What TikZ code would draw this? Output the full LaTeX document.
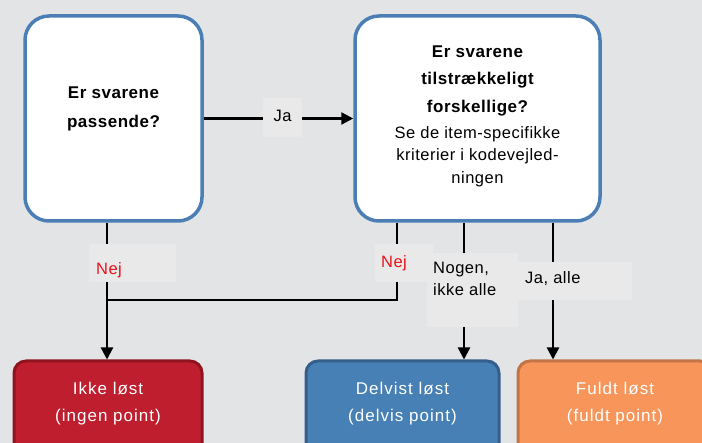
\documentclass[tikz,border=0pt]{standalone}
\usepackage{fontspec}
\setmainfont{Liberation Sans}[LetterSpace=3]
\newfontfamily\widesans{Liberation Sans}[LetterSpace=6]
\usetikzlibrary{arrows.meta}
\definecolor{bgcol}{HTML}{E3E4E6}
\definecolor{qframe}{HTML}{4A7EB4}
\definecolor{lblbg}{HTML}{E9E9E9}
\definecolor{nejred}{HTML}{E8121A}
\definecolor{redfill}{HTML}{BE1E2D}
\definecolor{redline}{HTML}{8F1420}
\definecolor{bluefill}{HTML}{4680B4}
\definecolor{blueline}{HTML}{355F8A}
\definecolor{orangefill}{HTML}{F7955A}
\definecolor{orangeline}{HTML}{C27446}
\tikzset{
  question/.style={draw=qframe, line width=3.5pt, fill=white, rounded corners=24pt,
    minimum width=177pt, minimum height=205pt, inner sep=0pt},
  qtext/.style={align=center, inner sep=0pt},
  result/.style={line width=3pt, rounded corners=12pt, minimum width=188pt,
    minimum height=110pt, inner sep=0pt, anchor=north},
  rtext/.style={text=white, align=center, inner sep=0pt,
    font=\widesans\fontsize{17}{27}\selectfont},
  lbl/.style={fill=lblbg, inner sep=0pt},
  ltext/.style={inner sep=0pt, font=\fontsize{16.5}{22}\selectfont},
  arr/.style={line width=2.2pt, -{Triangle[length=12pt, width=12pt]}},
  thinlink/.style={line width=1.5pt}
}
\begin{document}
\begin{tikzpicture}[x=1pt, y=-1pt]
  \fill[bgcol] (0,0) rectangle (702,443);
  \useasboundingbox (0,0) rectangle (702,443);

  % decision boxes
  \node[question] (q1) at (113.5,118.5) {};
  \node[qtext, font=\fontsize{17}{29}\selectfont\bfseries] (q1t) at (113.5,109)
    {Er svarene\\passende?};
  \node[question, minimum width=245pt] (q2) at (477.5,118.5) {};
  \node[qtext, font=\fontsize{17}{27.5}\selectfont\bfseries] (q2t) at (477.5,80.5)
    {Er svarene\\tilstrækkeligt\\forskellige?};
  \node[qtext, font=\fontsize{16.5}{22.5}\selectfont] (q2s) at (477.5,156.5)
    {Se de item-specifikke\\kriterier i kodevejled-\\ningen};

  % outcome boxes
  \node[result, draw=redline, fill=redfill] (r1) at (108,359.5) {};
  \node[rtext] (r1t) at (108,404) {Ikke løst\\(ingen point)};
  \node[result, draw=blueline, fill=bluefill, minimum width=193pt] (r2) at (402.5,359.5) {};
  \node[rtext] (r2t) at (402.5,404) {Delvist løst\\(delvis point)};
  \node[result, draw=orangeline, fill=orangefill, minimum width=194pt] (r3) at (615,359.5) {};
  \node[rtext] (r3t) at (615,404) {Fuldt løst\\(fuldt point)};

  % branch points along the bottom of the second question
  \coordinate (nejtop) at (397,223);
  \coordinate (nogtop) at (464,223);
  \coordinate (jatop)  at (553,223);
  \coordinate (join)   at (107,300);

  % connectors
  \draw[arr] (q1.east) -- (q2.west);
  \draw[arr] (join |- q1.south) -- (join |- r1.north);
  \draw[thinlink] (nejtop) |- (join);
  \draw[arr] (nogtop) -- (nogtop |- r2.north);
  \draw[arr] (jatop) -- (jatop |- r3.north);

  % connector labels
  \node[lbl, minimum width=39pt, minimum height=39pt] (lja) at (282.5,117.5) {};
  \node[ltext] (ljat) at (282.5,116) {Ja};
  \node[lbl, minimum width=87pt, minimum height=38pt, anchor=north west] (lnej1) at (89,244) {};
  \node[ltext, text=nejred] (lnej1t) at (109,270) {Nej};
  \node[lbl, minimum width=58pt, minimum height=38pt, anchor=north west] (lnej2) at (375,244) {};
  \node[ltext, text=nejred] (lnej2t) at (394,263) {Nej};
  \node[lbl, minimum width=91pt, minimum height=74pt, anchor=north west] (lnog) at (427,253) {};
  \node[ltext, anchor=north west, align=left] (lnogt) at (433,262) {Nogen,\\ikke alle};
  \node[lbl, minimum width=114pt, minimum height=38pt, anchor=north west] (ljaalle) at (518,262) {};
  \node[ltext, anchor=west] (ljaallet) at (525,279) {Ja, alle};
\end{tikzpicture}
\end{document}
